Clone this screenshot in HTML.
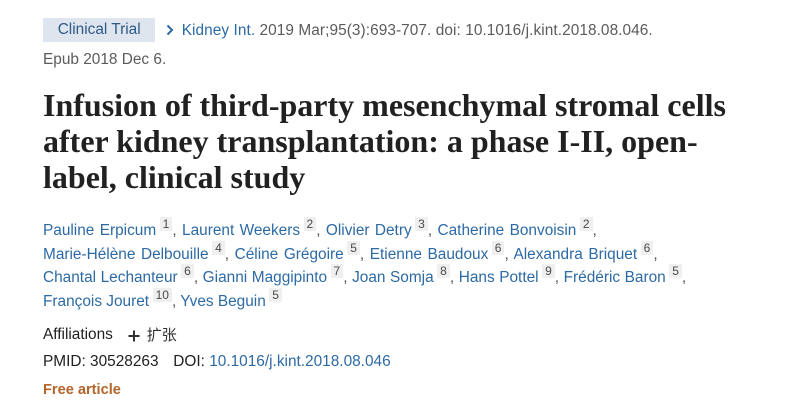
<!DOCTYPE html>
<html>
<head>
<meta charset="utf-8">
<style>
  html, body { margin:0; padding:0; background:#ffffff; }
  body { width:801px; height:412px; position:relative; overflow:hidden;
         font-family:"Liberation Sans", "Noto Sans CJK SC", sans-serif; font-size:15.4px; }
  .ln { position:absolute; left:43px; line-height:24px; white-space:nowrap; }
  .badge { position:absolute; left:43px; top:18px; width:112px; height:24px; background:#dfe5ee;
           color:#2d5a88; line-height:24px; box-sizing:border-box; padding-left:14.7px; white-space:nowrap; }
  .grey { color:#5b5b5b; }
  .blue { color:#2d6aa4; }
  .dark { color:#212121; }
  .title { position:absolute; left:43px; top:87.2px; font-family:"Liberation Serif", serif; font-weight:bold;
           font-size:32px; line-height:36px; color:#212121; white-space:nowrap; }
  .auth { color:#2d6aa4; }
  .sup { display:inline-block; background:#efefef; color:#4a4a4a; font-size:12px; line-height:14px;
         padding:0 3px; vertical-align:6.8px; margin-left:3.5px; }
  .cm { color:#555; }
  .free { position:absolute; left:43px; top:378px; font-size:14.6px; font-weight:bold; color:#b5652a; line-height:24px; }
</style>
</head>
<body>
  <div class="badge">Clinical Trial</div>
  <svg style="position:absolute;left:164px;top:23px" width="12" height="14" viewBox="0 0 12 14">
    <polyline points="3.5,2.5 8,7 3.5,11.5" fill="none" stroke="#2d6aa4" stroke-width="2"/>
  </svg>
  <div class="ln" style="left:181.7px;top:18.7px;letter-spacing:0.07px"><span class="blue">Kidney Int.</span><span class="grey"> 2019 Mar;95(3):693-707. doi: 10.1016/j.kint.2018.08.046.</span></div>
  <div class="ln grey" style="top:47.7px">Epub 2018 Dec 6.</div>

  <div class="title">Infusion of third-party mesenchymal stromal cells<br>after kidney transplantation: a phase I-II, open-<br>label, clinical study</div>

  <div class="ln auth" style="top:216.7px;word-spacing:1.1px">Pauline Erpicum<span class="sup">1</span><span class="cm">,</span> Laurent Weekers<span class="sup">2</span><span class="cm">,</span> Olivier Detry<span class="sup">3</span><span class="cm">,</span> Catherine Bonvoisin<span class="sup">2</span><span class="cm">,</span></div>
  <div class="ln auth" style="top:240.5px;word-spacing:1.3px">Marie-Hélène Delbouille<span class="sup">4</span><span class="cm">,</span> Céline Grégoire<span class="sup">5</span><span class="cm">,</span> Etienne Baudoux<span class="sup">6</span><span class="cm">,</span> Alexandra Briquet<span class="sup">6</span><span class="cm">,</span></div>
  <div class="ln auth" style="top:264.3px;word-spacing:0.3px">Chantal Lechanteur<span class="sup">6</span><span class="cm">,</span> Gianni Maggipinto<span class="sup">7</span><span class="cm">,</span> Joan Somja<span class="sup">8</span><span class="cm">,</span> Hans Pottel<span class="sup">9</span><span class="cm">,</span> Frédéric Baron<span class="sup">5</span><span class="cm">,</span></div>
  <div class="ln auth" style="top:288.1px">François Jouret<span class="sup">10</span><span class="cm">,</span> Yves Beguin<span class="sup">5</span></div>

  <div class="ln dark" style="top:323.4px">Affiliations</div>
  <svg style="position:absolute;left:127px;top:329px" width="14" height="14" viewBox="0 0 14 14">
    <line x1="7" y1="1.5" x2="7" y2="12.5" stroke="#333" stroke-width="2"/>
    <line x1="1.5" y1="7" x2="12.5" y2="7" stroke="#333" stroke-width="2"/>
  </svg>
  <div class="ln" style="left:146.7px;top:323.4px;color:#333;font-family:'Noto Sans CJK SC',sans-serif;font-size:15px">扩张</div>

  <div class="ln dark" style="top:350.4px">PMID: 30528263</div>
  <div class="ln" style="left:173.3px;top:350.4px"><span class="dark">DOI: </span><span class="blue">10.1016/j.kint.2018.08.046</span></div>

  <div class="free">Free article</div>
</body>
</html>
